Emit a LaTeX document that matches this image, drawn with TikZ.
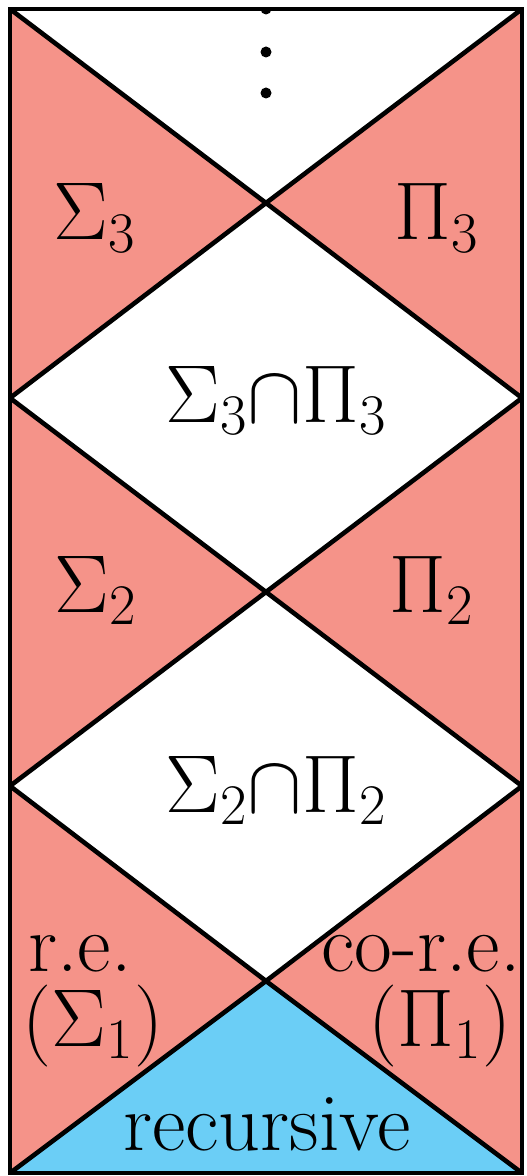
\RequirePackage{fix-cm}
\documentclass[tikz,border=0pt]{standalone}
\definecolor{salmon}{RGB}{245,147,137}
\definecolor{recblue}{RGB}{107,206,246}
\begin{document}
\begin{tikzpicture}[x=0.5pt,y=-0.5pt,
  lbl/.style={inner sep=0pt,anchor=base,font=\fontsize{41}{48}\selectfont},
  edge/.style={line width=2.3pt,line cap=round,line join=round},
  dotmark/.style={fill=black,draw=none}]
\useasboundingbox (0,0) rectangle (526,1176);
% corners and vertices
\coordinate (TL) at (10,9);
\coordinate (TR) at (522,9);
\coordinate (BL) at (10,1173);
\coordinate (BR) at (522,1173);
\coordinate (X3) at (266,203);
\coordinate (L3) at (10,398);
\coordinate (R3) at (522,398);
\coordinate (X2) at (266,592);
\coordinate (L2) at (10,786);
\coordinate (R2) at (522,786);
\coordinate (X1) at (266,981);
% fills
\fill[salmon] (TL) rectangle (BR);
\fill[white] (TL) -- (TR) -- (X3) -- cycle;
\fill[white] (X3) -- (R3) -- (X2) -- (L3) -- cycle;
\fill[white] (X2) -- (R2) -- (X1) -- (L2) -- cycle;
\fill[recblue] (BL) -- (X1) -- (BR) -- cycle;
% dots
\begin{scope}
\clip (TL) rectangle (BR);
\fill[dotmark] (266,9) circle (5.5);
\fill[dotmark] (266,52) circle (5.5);
\fill[dotmark] (266,93) circle (5.5);
\end{scope}
% lines
\begin{scope}
\clip (TL) rectangle (BR);
\draw[edge] (TL) -- (X3) -- (R3) -- (X2) -- (L2) -- (X1) -- (BR);
\draw[edge] (TR) -- (X3) -- (L3) -- (X2) -- (R2) -- (X1) -- (BL);
\end{scope}
\draw[line width=1.6pt] (TL) rectangle (BR);
% labels
\node[lbl] (s3) at (95,240) {$\Sigma_3$};
\node[lbl] (p3) at (437,240) {$\Pi_3$};
\node[lbl] (sp3) at (276,422) {$\Sigma_3{\cap}\Pi_3$};
\node[lbl] (s2) at (96,612) {$\Sigma_2$};
\node[lbl] (p2) at (432,612) {$\Pi_2$};
\node[lbl] (sp2) at (276,812) {$\Sigma_2{\cap}\Pi_2$};
\node[lbl] (re) at (80,971) {r.e.};
\node[lbl] (s1) at (93,1046) {$(\Sigma_1)$};
\node[lbl] (core) at (421,971) {co-r.e.};
\node[lbl] (p1) at (440,1046) {$(\Pi_1)$};
\node[lbl] (rec) at (267,1150) {recursive};
\end{tikzpicture}
\end{document}
